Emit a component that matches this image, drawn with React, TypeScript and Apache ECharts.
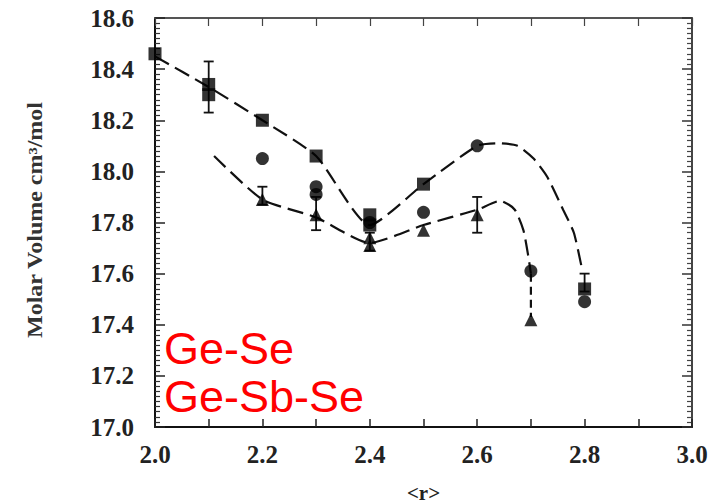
import React, { useEffect, useRef } from "react";
import * as echarts from "echarts";

// ---- data ----
const squareX = [2.0, 2.1, 2.1, 2.2, 2.3, 2.4, 2.4, 2.5, 2.8];
const squareY = [18.46, 18.34, 18.3, 18.2, 18.06, 17.83, 17.79, 17.95, 17.54];

const circleX = [2.2, 2.3, 2.3, 2.4, 2.5, 2.6, 2.7, 2.8];
const circleY = [18.05, 17.94, 17.91, 17.8, 17.84, 18.1, 17.61, 17.49];

const triangleX = [2.2, 2.3, 2.4, 2.4, 2.5, 2.6, 2.7];
const triangleY = [17.89, 17.83, 17.74, 17.71, 17.77, 17.83, 17.42];

const upperFitX = [2.0, 2.1, 2.2, 2.3, 2.4, 2.5, 2.6, 2.64, 2.675, 2.705, 2.73, 2.76, 2.78, 2.795];
const upperFitY = [18.45, 18.33, 18.2, 18.06, 17.79, 17.95, 18.1, 18.11, 18.1, 18.05, 17.98, 17.85, 17.76, 17.62];

const lowerFitX = [2.11, 2.2, 2.3, 2.4, 2.5, 2.6, 2.643, 2.67, 2.686, 2.695, 2.7];
const lowerFitY = [18.06, 17.89, 17.82, 17.72, 17.79, 17.85, 17.885, 17.85, 17.77, 17.67, 17.6];

const tailX = [2.7, 2.7];
const tailY = [17.6, 17.43];

// error bars: x, low, high
const errX = [2.1, 2.3, 2.4, 2.6, 2.8, 2.2];
const errLow = [18.23, 17.77, 17.69, 17.76, 17.53, 17.87];
const errHigh = [18.43, 17.9, 17.76, 17.9, 17.6, 17.94];

const yTicks = ["17.0", "17.2", "17.4", "17.6", "17.8", "18.0", "18.2", "18.4", "18.6"];
const xTicks = ["2.0", "2.2", "2.4", "2.6", "2.8", "3.0"];

const labelA = "Ge-Se";
const labelB = "Ge-Sb-Se";
const yName = "Molar Volume cm³/mol";
const xName = "<r>";

const zip = (a: number[], b: number[]) => a.map((v, i) => [v, b[i]]);

export default function App() {
  const ref = useRef<HTMLDivElement>(null);
  useEffect(() => {
    if (!ref.current) return;
    const chart = echarts.init(ref.current, undefined, { renderer: "svg" });
    const serif = "Liberation Serif";
    const lineStyle = { color: "#111", width: 2.2, type: [16, 7] as any };
    chart.setOption({
      animation: false,
      backgroundColor: "#fff",
      grid: { left: 155, right: 36, top: 18, bottom: 77, containLabel: false, outerBoundsMode: "none" },
      xAxis: [
        {
          type: "value",
          min: 2.0,
          max: 3.0,
          interval: 0.2,
          position: "bottom",
          axisLine: { lineStyle: { color: "#111", width: 2 } },
          axisTick: { inside: true, length: 8, lineStyle: { color: "#222", width: 1.5 } },
          minorTick: { show: true, splitNumber: 2, length: 8, lineStyle: { color: "#222", width: 1.5 } },
          splitLine: { show: false },
          axisLabel: {
            margin: 15,
            fontFamily: serif,
            fontSize: 25,
            fontWeight: "bold",
            color: "#222",
            formatter: (v: number) => xTicks[Math.round((v - 2.0) / 0.2)] ?? "",
          },
          name: xName,
          nameLocation: "middle",
          nameGap: 55,
          nameTextStyle: { fontFamily: serif, fontSize: 21, fontWeight: "bold", color: "#222" },
        },
        {
          type: "value",
          min: 2.0,
          max: 3.0,
          interval: 0.2,
          position: "top",
          axisLine: { lineStyle: { color: "#555", width: 2 } },
          axisTick: { inside: true, length: 8, lineStyle: { color: "#444", width: 1.2 } },
          minorTick: { show: true, splitNumber: 2, length: 8, lineStyle: { color: "#444", width: 1.2 } },
          splitLine: { show: false },
          axisLabel: { show: false },
        },
      ],
      yAxis: [
        {
          type: "value",
          min: 17.0,
          max: 18.6,
          interval: 0.2,
          position: "left",
          axisLine: { lineStyle: { color: "#111", width: 2 } },
          axisTick: { inside: true, length: 10, lineStyle: { color: "#222", width: 1.5 } },
          minorTick: { show: true, splitNumber: 10, length: 5, lineStyle: { color: "#333", width: 1.2 } },
          splitLine: { show: false },
          axisLabel: {
            margin: 21,
            fontFamily: serif,
            fontSize: 25,
            fontWeight: "bold",
            color: "#222",
            formatter: (v: number) => yTicks[Math.round((v - 17.0) / 0.2)] ?? "",
          },
        },
        {
          type: "value",
          min: 17.0,
          max: 18.6,
          interval: 0.2,
          position: "right",
          axisLine: { lineStyle: { color: "#444", width: 2 } },
          axisTick: { inside: true, length: 10, lineStyle: { color: "#333", width: 1.5 } },
          minorTick: { show: true, splitNumber: 10, length: 5, lineStyle: { color: "#444", width: 1.2 } },
          splitLine: { show: false },
          axisLabel: { show: false },
        },
      ],
      series: [
        {
          type: "line",
          data: zip(upperFitX, upperFitY),
          smooth: 0.2,
          showSymbol: false,
          lineStyle,
          z: 2,
        },
        {
          type: "line",
          data: zip(lowerFitX, lowerFitY),
          smooth: 0.2,
          showSymbol: false,
          lineStyle,
          z: 2,
        },
        {
          type: "line",
          data: zip(tailX, tailY),
          showSymbol: false,
          lineStyle: { color: "#111", width: 2.2, type: [8, 5] as any },
          z: 2,
        },
        {
          type: "custom",
          data: errX.map((x, i) => [x, errLow[i], errHigh[i]]),
          renderItem: (params: any, api: any) => {
            const x = api.value(0);
            const lo = api.coord([x, api.value(1)]);
            const hi = api.coord([x, api.value(2)]);
            const w = 5;
            const style = { stroke: "#111", lineWidth: 1.8 };
            return {
              type: "group",
              children: [
                { type: "line", shape: { x1: lo[0], y1: lo[1], x2: hi[0], y2: hi[1] }, style },
                { type: "line", shape: { x1: lo[0] - w, y1: lo[1], x2: lo[0] + w, y2: lo[1] }, style },
                { type: "line", shape: { x1: hi[0] - w, y1: hi[1], x2: hi[0] + w, y2: hi[1] }, style },
              ],
            };
          },
          z: 3,
        },
        {
          type: "scatter",
          data: zip(squareX, squareY),
          symbol: "rect",
          symbolSize: 13,
          itemStyle: { color: "#000" },
          z: 4,
        },
        {
          type: "scatter",
          data: zip(circleX, circleY),
          symbol: "circle",
          symbolSize: 13,
          itemStyle: { color: "#000" },
          z: 4,
        },
        {
          type: "scatter",
          data: zip(triangleX, triangleY),
          symbol: "triangle",
          symbolSize: 13,
          itemStyle: { color: "#000" },
          z: 4,
        },
      ],
      graphic: [
        {
          type: "text",
          x: 35,
          y: 220,
          rotation: Math.PI / 2,
          scaleX: 1.2,
          style: {
            text: yName,
            fontFamily: serif,
            fontSize: 20,
            fontWeight: "bold",
            fill: "#333",
            align: "center",
            verticalAlign: "middle",
          },
          z: 10,
        },
        {
          type: "text",
          left: 164,
          top: 326,
          style: { text: labelA, fontFamily: "Liberation Sans", fontSize: 45, fill: "#ff0000" },
          z: 10,
        },
        {
          type: "text",
          left: 164,
          top: 374,
          style: { text: labelB, fontFamily: "Liberation Sans", fontSize: 45, fill: "#ff0000" },
          z: 10,
        },
      ],
    });
    return () => chart.dispose();
  }, []);
  return <div ref={ref} style={{ width: 728, height: 504, position: "absolute", left: 0, top: 0 }} />;
}
